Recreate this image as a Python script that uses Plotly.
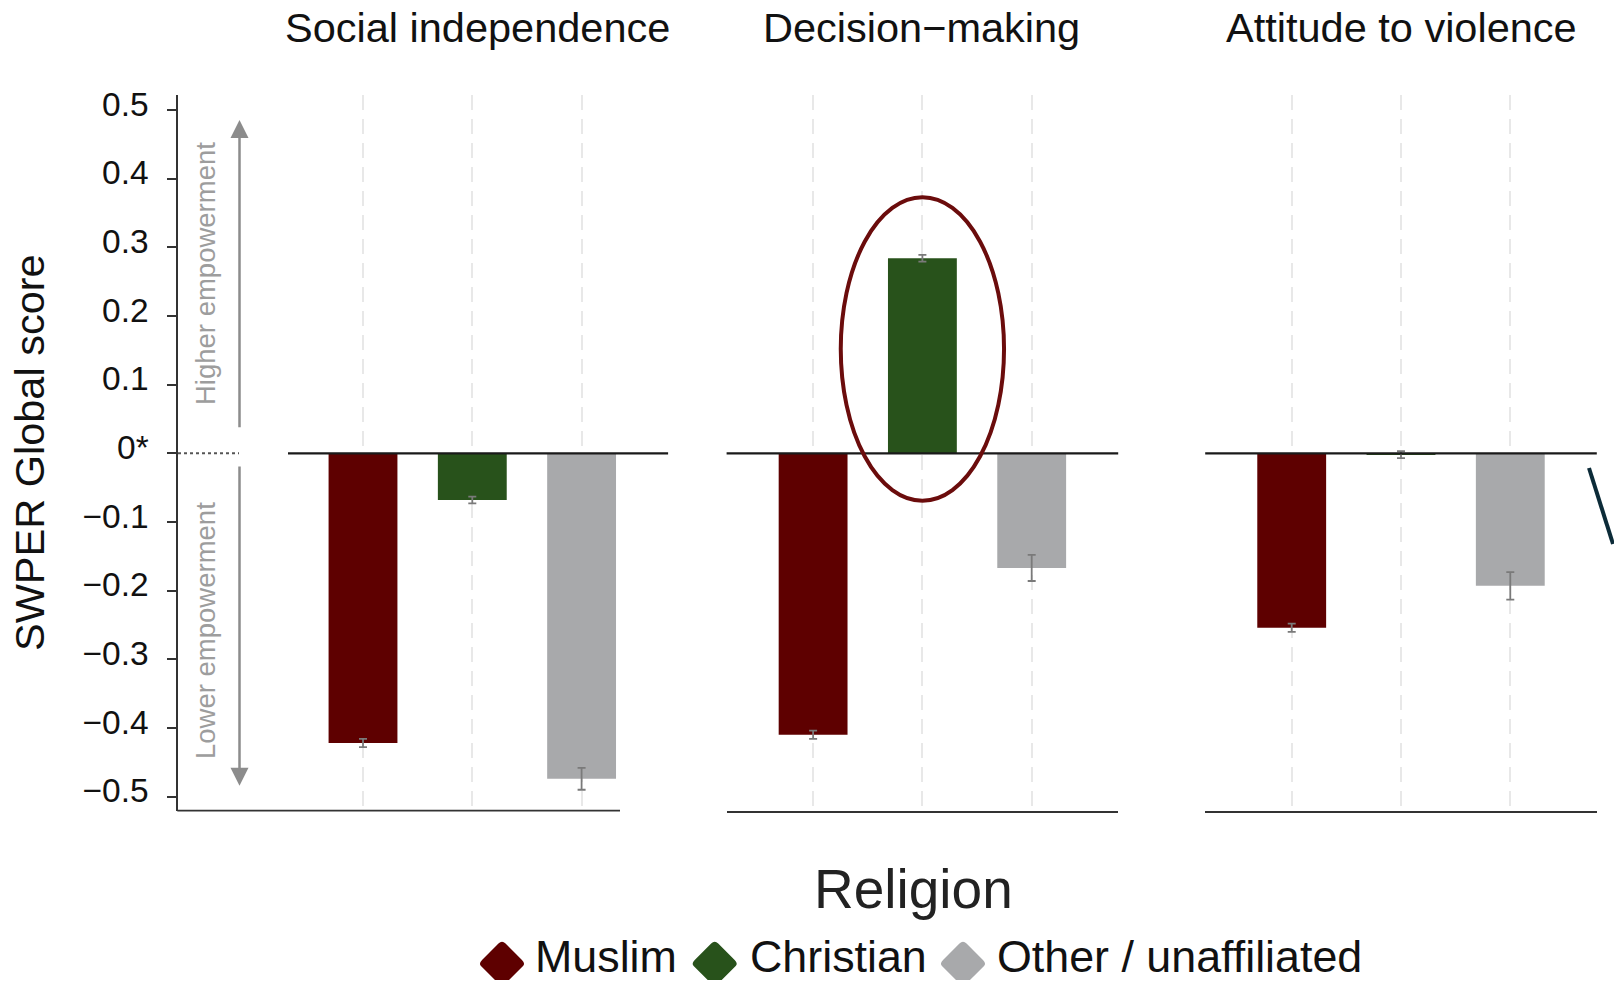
import plotly.graph_objects as go

W, H = 1614, 981

# ---------------- data ----------------
panels = ["Social independence", "Decision\u2212making", "Attitude to violence"]
religions = ["Muslim", "Christian", "Other / unaffiliated"]
colors = ["#5e0000", "#28521b", "#a8a9ab"]

social_vals = [-0.422, -0.068, -0.474]
social_err = [0.006, 0.005, 0.016]
decision_vals = [-0.410, 0.284, -0.167]
decision_err = [0.006, 0.005, 0.019]
violence_vals = [-0.254, -0.002, -0.193]
violence_err = [0.006, 0.005, 0.020]

y_tickvals = [-0.5, -0.4, -0.3, -0.2, -0.1, 0, 0.1, 0.2, 0.3, 0.4, 0.5]
y_ticktext = ["\u22120.5", "\u22120.4", "\u22120.3", "\u22120.2", "\u22120.1", "0*",
              "0.1", "0.2", "0.3", "0.4", "0.5"]

# ---------------- helpers ----------------
def px(x):
    return x / W


def py(y):
    return 1 - y / H


FONT = "Liberation Sans, Arial, Helvetica, sans-serif"

vals = [social_vals, decision_vals, violence_vals]
errs = [social_err, decision_err, violence_err]
ax_ids = ["", "2", "3"]

fig = go.Figure()
for i in range(3):
    fig.add_trace(go.Bar(
        x=religions, y=vals[i], name=panels[i],
        marker=dict(color=colors, line=dict(width=0)),
        width=0.63,
        error_y=dict(type="data", array=errs[i], color="#7a7a7a", thickness=1.8, width=4),
        xaxis="x" + ax_ids[i], yaxis="y" + ax_ids[i], showlegend=False,
    ))

x_domains = [[276.5 / W, 668.1 / W], [726.6 / W, 1118.2 / W], [1205.2 / W, 1596.8 / W]]
y_domain = [1 - 810.7 / H, 1 - 95 / H]
y_range = [-0.5205, 0.5218]

layout = dict(
    width=W, height=H, autosize=False,
    margin=dict(l=0, r=0, t=0, b=0, pad=0),
    paper_bgcolor="white", plot_bgcolor="rgba(0,0,0,0)",
    font=dict(family=FONT, color="#111"),
    bargap=0.3,
)

for i in range(3):
    xa = dict(
        domain=x_domains[i], anchor="y" + ax_ids[i], type="category",
        categoryorder="array", categoryarray=religions,
        range=[-0.7915, 2.7915], automargin=False,
        showgrid=True, gridcolor="#e8e8e8", gridwidth=2, griddash="15px,9px",
        showticklabels=False, ticks="", zeroline=False,
        showline=(i > 0), linecolor="#333", linewidth=1.8,
    )
    layout["xaxis" + ax_ids[i]] = xa
    if i == 0:
        layout["yaxis"] = dict(
            domain=y_domain, range=y_range, anchor="free", position=177.3 / W,
            automargin=False,
            tickmode="array", tickvals=y_tickvals, ticktext=y_ticktext,
            ticks="outside", ticklen=9, tickwidth=1.5, tickcolor="#333",
            showline=True, linecolor="#333", linewidth=1.8,
            showgrid=False, zeroline=False,
            tickfont=dict(size=33.5, color="#111", family=FONT),
            ticklabelstandoff=12, ticklabelshift=-6,
        )
    else:
        layout["yaxis" + ax_ids[i]] = dict(
            domain=y_domain, range=y_range, anchor="x" + ax_ids[i], matches="y",
            automargin=False,
            showticklabels=False, showline=False, showgrid=False, zeroline=False, ticks="",
        )

fig.update_layout(**layout)

# ---------------- annotations ----------------
annotations = []
title_x = [477.8, 921.7, 1401.0]
for i in range(3):
    annotations.append(dict(
        text=panels[i], x=px(title_x[i]), y=py(27.5), xref="paper", yref="paper",
        xanchor="center", yanchor="middle", showarrow=False,
        font=dict(size=41.5, color="#111", family=FONT),
    ))

annotations.append(dict(
    text="SWPER Global score", x=px(29), y=py(453), xref="paper", yref="paper",
    textangle=-90, xanchor="center", yanchor="middle", showarrow=False,
    font=dict(size=41.5, color="#111", family=FONT),
))
annotations.append(dict(
    text="Religion", x=px(913.6), y=py(889), xref="paper", yref="paper",
    xanchor="center", yanchor="middle", showarrow=False,
    font=dict(size=55, color="#222", family=FONT),
))
annotations.append(dict(
    text="Higher empowerment", x=px(205), y=py(274), xref="paper", yref="paper",
    textangle=-90, xanchor="center", yanchor="middle", showarrow=False,
    font=dict(size=27.5, color="#9d9d9d", family=FONT),
))
annotations.append(dict(
    text="Lower empowerment", x=px(205), y=py(631), xref="paper", yref="paper",
    textangle=-90, xanchor="center", yanchor="middle", showarrow=False,
    font=dict(size=27.5, color="#9d9d9d", family=FONT),
))
# arrows
for tip, tail in [(120, 428.8), (785.7, 465)]:
    annotations.append(dict(
        text="", x=px(239.5), y=py(tip), xref="paper", yref="paper",
        ax=0, ay=tail - tip, showarrow=True, arrowhead=2, arrowsize=1.44,
        arrowwidth=2.5, arrowcolor="#8c8c8c", standoff=0, startstandoff=0,
    ))

# legend labels (box kept inside the page; descender area trimmed)
leg_text_x = [535, 749.5, 996.5]
for name, lx in zip(religions, leg_text_x):
    annotations.append(dict(
        text=name, x=px(lx), y=py(980), xref="paper", yref="paper",
        xanchor="left", yanchor="bottom", valign="top", height=49,
        showarrow=False, borderpad=0, borderwidth=0,
        font=dict(size=44.8, color="#111", family=FONT),
    ))

fig.update_layout(annotations=annotations)

# ---------------- shapes ----------------
shapes = []
zero_starts = [(288 - 276.5) / 391.6, 0, 0]
for i in range(3):
    shapes.append(dict(
        type="line", xref="x" + ax_ids[i] + " domain", yref="y" + ax_ids[i],
        x0=zero_starts[i], x1=1, y0=0, y1=0,
        line=dict(color="#1a1a1a", width=2.2),
    ))
# panel-1 bottom line (offset, as in original composite)
shapes.append(dict(
    type="line", xref="x domain", yref="y domain",
    x0=(177.3 - 276.5) / 391.6, x1=(620 - 276.5) / 391.6, y0=0, y1=0,
    line=dict(color="#333", width=1.8),
))
# dotted zero reference on axis
shapes.append(dict(
    type="line", xref="paper", yref="y", x0=px(178), x1=px(239), y0=0, y1=0,
    line=dict(color="#555", width=2, dash="dot"),
))
# highlight ellipse around Christian decision-making bar
shapes.append(dict(
    type="circle", xref="x2", yref="y2", x0=0.253, x1=1.747, y0=-0.069, y1=0.3728,
    line=dict(color="#6b0c0c", width=4),
))
# stray dark line at right edge (clipped to the page)
shapes.append(dict(
    type="line", xref="paper", yref="paper",
    x0=px(1589), y0=py(468), x1=px(1613), y1=py(544),
    line=dict(color="#0c2b38", width=4),
))


# legend diamonds (rounded, cut off at the bottom page edge like the original)
def diamond_path(cx, cy, h, r, ymax):
    f = r / (h * 1.41421)
    top = (cx, cy - h)
    right = (cx + h, cy)
    left = (cx - h, cy)
    d = ymax - cy
    cut_r = (cx + (h - d), ymax)
    cut_l = (cx - (h - d), ymax)

    def lerp(p, q, t):
        return (p[0] + (q[0] - p[0]) * t, p[1] + (q[1] - p[1]) * t)

    def P(p):
        return f"{px(p[0]):.5f},{py(p[1]):.5f}"

    segs = []
    a = lerp(top, left, f)
    b = lerp(top, right, f)
    segs.append("M" + P(a))
    segs.append("Q" + P(top) + " " + P(b))
    a = lerp(right, top, f)
    b = lerp(right, cut_r, f)
    segs.append("L" + P(a))
    segs.append("Q" + P(right) + " " + P(b))
    segs.append("L" + P(cut_r))
    segs.append("L" + P(cut_l))
    a = lerp(left, cut_l, f)
    b = lerp(left, top, f)
    segs.append("L" + P(a))
    segs.append("Q" + P(left) + " " + P(b))
    segs.append("Z")
    return " ".join(segs)


leg_diamond_x = [502, 714.7, 963]
for c, dx in zip(colors, leg_diamond_x):
    shapes.append(dict(
        type="path", xref="paper", yref="paper",
        path=diamond_path(dx, 963.5, 23.5, 5, 980),
        fillcolor=c, line=dict(width=0),
    ))

fig.update_layout(shapes=shapes)

fig.write_html("out.html")
